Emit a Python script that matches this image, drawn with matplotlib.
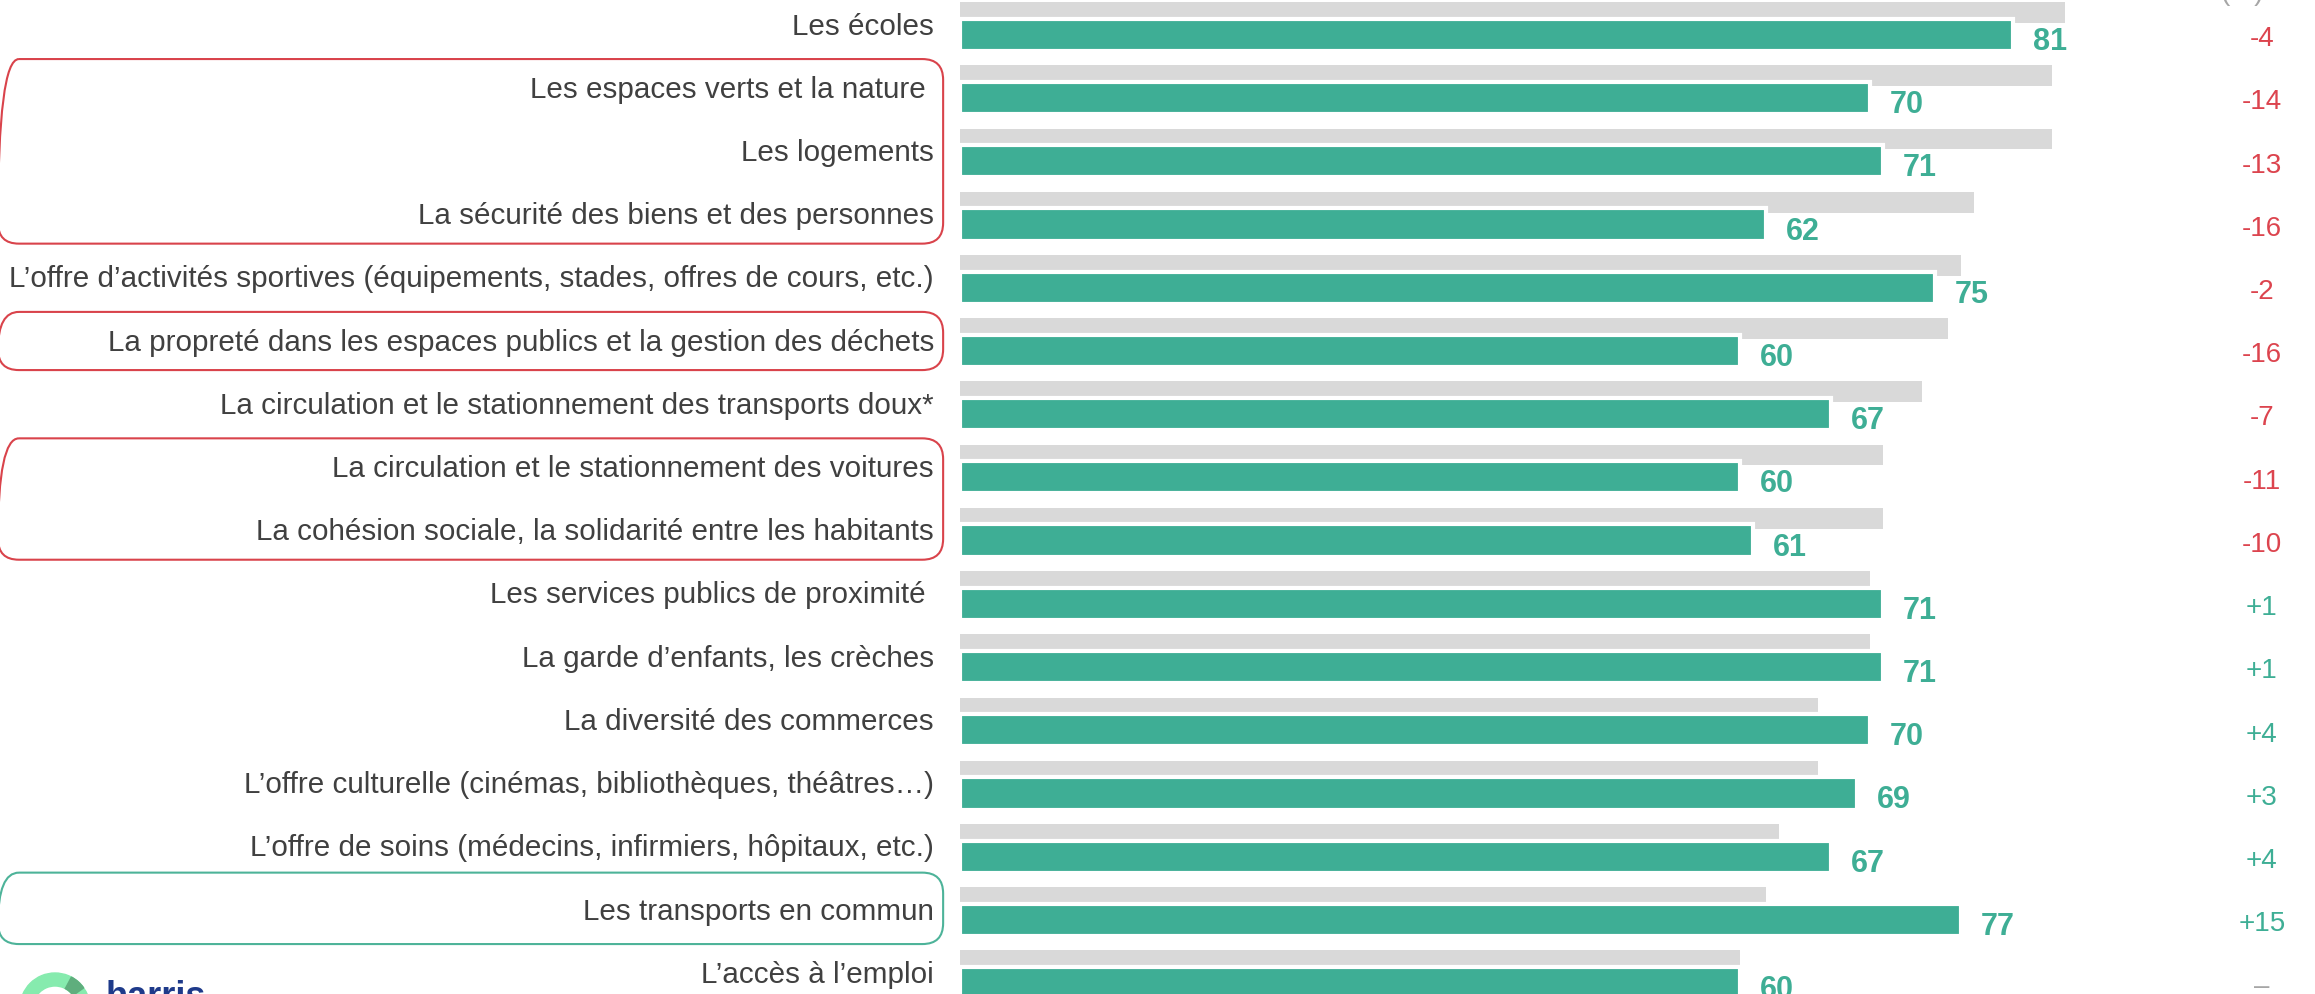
import matplotlib.pyplot as plt
from matplotlib import font_manager
from matplotlib.patches import FancyBboxPatch, Wedge
import numpy as np

# the reference uses a tall, condensed Arial look
installed = {f.name for f in font_manager.fontManager.ttflist}
if 'Liberation Sans Narrow' in installed:
    FONT = 'Liberation Sans Narrow'
    SIZES = dict(label=25.5, value=27, evol=23, logo=26)
else:
    FONT = 'Liberation Sans'
    SIZES = dict(label=21.3, value=22, evol=20, logo=26)
plt.rcParams['font.family'] = [FONT, 'DejaVu Sans']

# Data
categories = [
    'Les écoles',
    'Les espaces verts et la nature ',
    'Les logements',
    'La sécurité des biens et des personnes',
    'L’offre d’activités sportives (équipements, stades, offres de cours, etc.)',
    'La propreté dans les espaces publics et la gestion des déchets',
    'La circulation et le stationnement des transports doux*',
    'La circulation et le stationnement des voitures',
    'La cohésion sociale, la solidarité entre les habitants',
    'Les services publics de proximité ',
    'La garde d’enfants, les crèches',
    'La diversité des commerces',
    'L’offre culturelle (cinémas, bibliothèques, théâtres…)',
    'L’offre de soins (médecins, infirmiers, hôpitaux, etc.)',
    'Les transports en commun',
    'L’accès à l’emploi',
]
current = [81, 70, 71, 62, 75, 60, 67, 60, 61, 71, 71, 70, 69, 67, 77, 60]
previous = [85, 84, 84, 78, 77, 76, 74, 71, 71, 70, 70, 66, 66, 63, 62, 60]
evolution = ['-4', '-14', '-13', '-16', '-2', '-16', '-7', '-11', '-10',
             '+1', '+1', '+4', '+3', '+4', '+15', '–']

# highlighted groups: (first row, last row, colour)
highlights = [(1, 3, '#D9434B'), (5, 5, '#D9434B'), (7, 8, '#D9434B'),
              (14, 14, '#4DB399')]

TEAL = '#3EAE95'
GREY = '#D9D9D9'
RED = '#DC444E'
TEXT = '#404040'

fig = plt.figure(figsize=(23.15, 9.95), dpi=100)
ax = fig.add_axes([0, 0, 1, 1])
ax.axis('off')
ax.set_xlim(-73.85, 104.23)
ax.set_ylim(15.32, -0.42)

y = np.arange(len(categories))
ax.barh(y - 0.206, previous, height=0.328, color=GREY, zorder=1)
ax.barh(y + 0.147, current, height=0.509, color=TEAL,
        edgecolor='white', linewidth=3, zorder=2)

for i, (cat, v, ev) in enumerate(zip(categories, current, evolution)):
    ax.text(-2.0, i, cat, ha='right', va='center',
            fontsize=SIZES['label'], color=TEXT)
    ax.text(v + 1.5, i + 0.369, str(v), ha='left', va='baseline',
            fontsize=SIZES['value'], fontweight='bold', color=TEAL)
    if ev.startswith('-'):
        c = RED
    elif ev.startswith('+'):
        c = TEAL
    else:
        c = '#A6A6A6'
    ax.text(100.15, i + 0.31, ev, ha='center', va='baseline',
            fontsize=SIZES['evol'], color=c)

# column header, cut by the top of the picture
ax.text(98.6, -0.42, '(%)', ha='center', va='baseline',
        fontsize=SIZES['evol'], color='#A6A6A6', clip_on=False)

# rounded frames around the label groups
for first, last, col in highlights:
    top_pad, bot_pad = (0.6, 0.53) if col == '#4DB399' else (0.47, 0.45)
    box = FancyBboxPatch((-74.0, first - top_pad), 72.7,
                         (last - first) + top_pad + bot_pad,
                         boxstyle='round,pad=0,rounding_size=1.6',
                         mutation_aspect=13 / 63.2,
                         fill=False, edgecolor=col, linewidth=1.5,
                         clip_on=False, zorder=3)
    ax.add_patch(box)

# logo fragment at the bottom left
tr = fig.dpi_scale_trans
fig.add_artist(Wedge((0.55, -0.14), 0.35, 0, 360, width=0.13,
                     color='#86EBAE', transform=tr))
fig.add_artist(Wedge((0.55, -0.14), 0.35, 35, 62, width=0.13,
                     color='#5FAE7D', transform=tr))
fig.text(105 / 2315, -0.012, 'harris', ha='left', va='baseline',
         fontsize=SIZES['logo'], fontweight='bold', color='#1E3A8A',
         family=['Liberation Sans', 'DejaVu Sans'])

fig.savefig('out.png', dpi=100)
